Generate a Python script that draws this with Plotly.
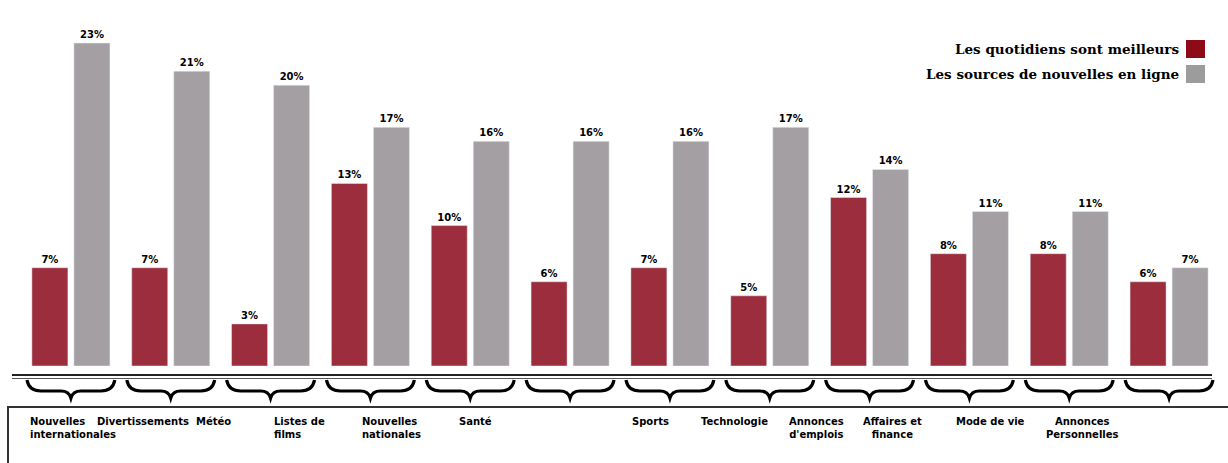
import plotly.graph_objects as go

categories = ["Nouvelles internationales", "Divertissements", "Météo", "Listes de films",
              "Nouvelles nationales", "Santé", "Sports", "Technologie",
              "Annonces d'emplois", "Affaires et finance", "Mode de vie", "Annonces Personnelles"]
label_lines = ["Nouvelles<br>internationales", "Divertissements", "Météo", "Listes de<br>films",
               "Nouvelles<br>nationales", "Santé", "Sports", "Technologie",
               "Annonces<br>d'emplois", "Affaires et<br>finance", "Mode de vie", "Annonces<br>Personnelles"]
quotidiens = [7, 7, 3, 13, 10, 6, 7, 5, 12, 8, 8, 6]
en_ligne = [23, 21, 20, 17, 16, 16, 16, 17, 14, 11, 11, 7]
series_names = ["Les quotidiens sont meilleurs", "Les sources de nouvelles en ligne"]

# styling / layout (not data)
RED = "#9b2d3c"
GREY = "#a49fa3"
LABEL_SHIFT = [-43, -76, -77, -98, -110, -113, -19, -35, -53, -77, -79, -87]
LABEL_ANCHOR = ["left"] * 6 + ["center"] * 6

W, H = 1228, 463
ML, MR, MT, MB = 21, 9, 0, 97
PH = H - MT - MB
n = len(categories)

fig = go.Figure()
fig.add_bar(x=categories, y=quotidiens, name=series_names[0], marker_color=RED,
            texttemplate="<b>%{y}%</b>", textposition="outside", cliponaxis=False,
            textfont=dict(family="DejaVu Sans", size=10, color="black"), showlegend=False)
fig.add_bar(x=categories, y=en_ligne, name=series_names[1], marker_color=GREY,
            texttemplate="<b>%{y}%</b>", textposition="outside", cliponaxis=False,
            textfont=dict(family="DejaVu Sans", size=10, color="black"), showlegend=False)


def py(pix):
    return (H - MB - pix) / PH


def px(pix):
    return (pix - ML) / (W - ML - MR)


def cx(i):
    return (i + 0.5) / n


shapes = []
# baseline double line
for yy, w, c in [(375, 2, "#222"), (378.5, 1, "#555")]:
    shapes.append(dict(type="line", xref="paper", yref="paper", x0=px(12), x1=px(1212),
                       y0=py(yy), y1=py(yy), line=dict(color=c, width=w)))
# braces under each group
half = 0.44 / n
for i in range(n):
    c = cx(i)
    yt, ym, yb = py(380), py(391), py(398)
    a1 = c - half
    b1 = c + half
    path = (f"M {a1} {yt} Q {a1 + 0.02 / n} {ym} {a1 + 0.14 / n} {ym} L {c - 0.1 / n} {ym} "
            f"Q {c - 0.02 / n} {ym} {c} {yb} Q {c + 0.02 / n} {ym} {c + 0.1 / n} {ym} L {b1 - 0.14 / n} {ym} "
            f"Q {b1 - 0.02 / n} {ym} {b1} {yt}")
    shapes.append(dict(type="path", xref="paper", yref="paper", path=path,
                       line=dict(color="black", width=3.2)))
# label box
shapes.append(dict(type="rect", xref="paper", yref="paper", x0=px(8), x1=px(1240),
                   y0=py(407), y1=py(470), line=dict(color="#333", width=2),
                   fillcolor="rgba(0,0,0,0)"))
# legend swatches
shapes.append(dict(type="rect", xref="paper", yref="paper", x0=px(1186), x1=px(1205),
                   y0=py(40), y1=py(58), fillcolor="#8e0a16", line=dict(width=0)))
shapes.append(dict(type="rect", xref="paper", yref="paper", x0=px(1186), x1=px(1205),
                   y0=py(65), y1=py(83), fillcolor="#9c9c9c", line=dict(width=0)))

annotations = []
for i, lab in enumerate(label_lines):
    annotations.append(dict(xref="paper", yref="paper", x=cx(i), y=py(414), xshift=LABEL_SHIFT[i],
                            xanchor=LABEL_ANCHOR[i], yanchor="top", align=LABEL_ANCHOR[i],
                            text=f"<b>{lab}</b>", showarrow=False,
                            font=dict(family="DejaVu Sans", size=10, color="black")))
for name, yy in zip(series_names, [49, 74]):
    annotations.append(dict(xref="paper", yref="paper", x=px(1181), y=py(yy), xanchor="right",
                            yanchor="middle", text=f"<b>{name}</b>", showarrow=False,
                            font=dict(family="DejaVu Serif", size=13.5, color="black")))

fig.update_layout(
    width=W, height=H, margin=dict(l=ML, r=MR, t=MT, b=MB),
    paper_bgcolor="white", plot_bgcolor="white",
    barmode="group", bargap=0.158, bargroupgap=0.143,
    xaxis=dict(visible=False, range=[-0.5, n - 0.5]),
    yaxis=dict(visible=False, range=[0, PH / 14.04]),
    shapes=shapes, annotations=annotations,
)
fig.write_html("out.html")
